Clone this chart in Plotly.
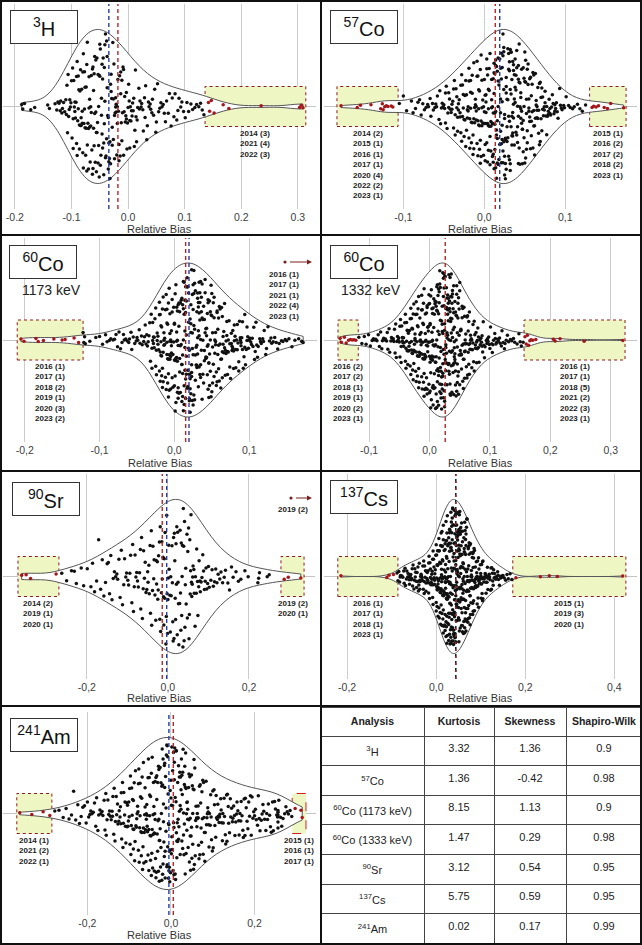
import numpy as np
import plotly.graph_objects as go

# ------------------------------------------------------------------
# DATA  (relative bias, in units of 0.001)
# ------------------------------------------------------------------
h3_main = [-188,-186,-183,-172,-165,-142,-139,
-129,-126,-124,-122,
-120,-119,-117,-116,-114,-112,
-110,-109,-108,-107,-106,-105,-104,-103,-102,-101,
-100,-99,-98,-97,-97,-96,-95,-94,-94,-93,-92,-91,-91,
-90,-90,-89,-88,-88,-87,-86,-86,-85,-84,-84,-83,-83,-82,-81,-81,
-80,-80,-79,-79,-78,-77,-77,-76,-76,-75,-74,-74,-73,-73,-72,-72,-71,
-70,-70,-69,-69,-68,-68,-67,-66,-66,-65,-65,-64,-63,-63,-62,-62,-61,-61,
-60,-60,-59,-59,-58,-57,-57,-56,-56,-55,-55,-54,-53,-53,-52,-52,-51,-51,
-50,-50,-49,-49,-48,-47,-47,-46,-46,-45,-45,-44,-43,-43,-42,-42,-41,-41,
-40,-40,-39,-38,-38,-37,-37,-36,-35,-35,-34,-34,-33,-32,-32,-31,-31,
-30,-30,-29,-28,-28,-27,-26,-26,-25,-24,-24,-23,-22,-22,-21,-21,
-20,-19,-19,-18,-17,-16,-16,-15,-14,-13,-13,-12,-11,-11,
-10,-9,-8,-8,-7,-6,-5,-4,-3,-3,-2,-1,
0,1,2,3,3,4,5,6,7,8,9,
10,11,12,13,14,15,16,17,19,
20,21,23,24,26,27,29,
30,31,33,34,36,37,39,
40,42,43,45,47,49,
50,52,54,56,58,
60,62,64,66,68,
71,73,76,78,
81,83,86,88,
90,93,95,98,
101,104,107,
111,114,118,
121,125,128,
131,134]
h3_out = [142,144,147,152,168,178,235,303,306,309]

co57_main = [-105,-100,-96,
-90,-88,-85,-82,
-80,-78,-76,-74,-72,
-70,-69,-67,-66,-64,-63,-61,
-60,-59,-58,-56,-55,-54,-53,-52,-51,
-50,-49,-48,-48,-47,-46,-45,-44,-44,-43,-42,-41,
-40,-40,-39,-38,-38,-37,-36,-36,-35,-34,-34,-33,-33,-32,-32,-31,
-30,-30,-29,-29,-28,-28,-27,-27,-26,-26,-25,-25,-24,-24,-23,-23,-22,-22,-21,-21,
-20,-20,-19,-19,-19,-18,-18,-17,-17,-17,-16,-16,-15,-15,-15,-14,-14,-13,-13,-13,-12,-12,-11,-11,
-10,-10,-10,-9,-9,-9,-8,-8,-8,-7,-7,-7,-6,-6,-6,-5,-5,-5,-4,-4,-4,-3,-3,-3,-2,-2,-1,-1,
0,0,0,1,1,1,2,2,2,2,3,3,3,4,4,4,5,5,5,5,6,6,6,7,7,7,8,8,8,9,9,9,
10,10,10,10,11,11,11,11,12,12,12,12,13,13,13,13,14,14,14,14,15,15,15,15,16,16,16,16,17,17,17,17,18,18,19,19,
20,20,20,20,21,21,21,21,22,22,22,22,23,23,23,23,24,24,24,24,25,25,25,25,26,26,26,26,27,27,27,27,28,28,28,29,29,29,
30,30,30,30,31,31,31,31,32,32,32,32,33,33,33,33,34,34,34,34,35,35,35,35,36,36,36,36,37,37,37,38,38,38,39,39,39,
40,40,40,41,41,41,42,42,42,42,43,43,43,44,44,44,45,45,45,45,46,46,46,47,47,47,48,48,48,49,49,49,
50,50,50,51,51,51,52,52,52,53,53,53,54,54,55,55,55,56,56,56,57,57,58,58,58,59,59,
60,60,61,61,61,62,62,63,63,64,64,65,65,65,66,66,67,67,68,68,69,69,
70,70,71,71,72,72,73,74,74,75,75,76,77,77,78,79,79,
80,81,81,82,83,84,85,86,87,87,88,89,
90,91,93,94,95,96,98,99,
101,104,106,109,
111,115,118,
121,125]
co57_out = [-177,-157,-153,-140,-128,-126,-125,-123,-121,-119,-115,-113,
133,135,138,141,148,152,156,172]

co60a_main = [-122,-121,-120,-119,
-113,-105,
-100,-96,-92,
-90,-87,-85,-82,
-80,-78,-76,-74,-72,
-70,-68,-67,-65,-63,-61,
-60,-58,-57,-55,-53,-51,
-50,-49,-47,-46,-44,-43,-41,
-40,-39,-38,-37,-36,-35,-34,-33,-32,-31,
-30,-30,-29,-29,-28,-28,-27,-27,-26,-25,-25,-24,-24,-23,-23,-22,-22,-21,
-20,-20,-20,-19,-19,-19,-18,-18,-18,-17,-17,-17,-16,-16,-16,-15,-15,-15,-14,-14,-14,-13,-13,-12,-12,-11,-11,
-10,-10,-10,-10,-9,-9,-9,-8,-8,-8,-8,-7,-7,-7,-6,-6,-6,-6,-5,-5,-5,-4,-4,-4,-4,-3,-3,-3,-2,-2,-1,-1,
0,0,0,0,1,1,1,1,2,2,2,2,3,3,3,3,4,4,4,4,5,5,5,5,6,6,6,7,7,7,8,8,8,9,9,
10,10,10,10,11,11,11,11,12,12,12,12,13,13,13,13,14,14,14,14,15,15,15,15,16,16,16,16,17,17,17,18,18,18,19,19,19,
20,20,20,20,21,21,21,21,22,22,22,22,23,23,23,23,24,24,24,24,25,25,25,25,26,26,26,26,27,27,27,28,28,28,29,29,
30,30,30,30,31,31,31,31,32,32,32,32,33,33,33,33,34,34,34,34,35,35,35,35,36,36,36,37,37,37,38,38,38,39,39,
40,40,40,41,41,41,42,42,42,43,43,43,44,44,44,45,45,45,45,46,46,46,47,47,47,48,48,48,49,49,49,
50,50,50,51,51,51,52,52,53,53,53,54,54,55,55,55,56,56,57,57,57,58,58,59,59,59,
60,60,61,61,62,62,63,63,64,64,64,65,65,66,66,67,67,68,68,69,69,
70,70,71,71,72,72,73,74,74,75,76,76,77,77,78,78,79,79,
80,80,81,82,82,83,84,84,85,86,86,87,88,88,89,89,
90,91,91,92,93,94,94,95,96,97,97,98,99,
100,101,102,103,104,105,106,107,108,109,
110,111,112,114,115,116,118,119,
120,122,123,125,127,129,
130,132,134,136,138,
140,143,145,148,
150,153,157,
161,166,
170,172]
co60a_out = [-205,-201,-185,-182,-175,-161,-150,-146,-134,-128]

co60b_main = [-117,-112,
-108,-105,-101,
-98,-95,-93,-91,
-89,-87,-85,-83,-81,
-79,-78,-76,-74,-73,-71,
-70,-69,-67,-66,-64,-63,-61,
-60,-59,-58,-57,-56,-55,-54,-53,-52,-51,
-50,-49,-49,-48,-47,-47,-46,-45,-45,-44,-43,-43,-42,-41,
-40,-40,-39,-39,-38,-38,-37,-37,-36,-36,-35,-35,-34,-34,-33,-33,-32,-32,-31,-31,
-30,-30,-30,-29,-29,-28,-28,-28,-27,-27,-26,-26,-26,-25,-25,-24,-24,-24,-23,-23,-22,-22,-22,-21,-21,
-20,-20,-20,-19,-19,-19,-18,-18,-18,-17,-17,-17,-16,-16,-16,-15,-15,-15,-14,-14,-14,-13,-13,-13,-12,-12,-12,-11,-11,-11,
-10,-10,-10,-10,-9,-9,-9,-8,-8,-8,-7,-7,-7,-7,-6,-6,-6,-5,-5,-5,-4,-4,-4,-4,-3,-3,-3,-2,-2,-2,-1,-1,-1,
0,0,0,0,1,1,1,1,2,2,2,2,3,3,3,3,4,4,4,4,5,5,5,5,6,6,6,6,7,7,7,7,8,8,8,9,9,9,
10,10,10,10,11,11,11,11,12,12,12,12,12,13,13,13,13,14,14,14,14,15,15,15,15,15,16,16,16,16,17,17,17,17,18,18,18,18,19,19,19,19,
20,20,20,20,21,21,21,21,22,22,22,22,22,23,23,23,23,24,24,24,24,24,25,25,25,25,25,26,26,26,26,27,27,27,27,28,28,28,28,29,29,29,29,
30,30,30,30,31,31,31,31,32,32,32,32,33,33,33,33,34,34,34,34,35,35,35,35,35,36,36,36,36,37,37,37,37,38,38,38,38,39,39,39,39,
40,40,40,40,41,41,41,41,42,42,42,42,43,43,43,44,44,44,45,45,45,45,46,46,46,46,47,47,47,48,48,48,49,49,49,
50,50,50,51,51,51,52,52,52,53,53,54,54,54,55,55,56,56,56,57,57,58,58,58,59,59,59,
60,60,61,61,62,62,63,63,64,64,65,65,65,66,66,67,67,68,68,69,69,
70,70,71,72,72,73,74,74,75,76,76,77,78,78,79,79,
80,81,81,82,83,84,85,86,87,87,88,89,
90,91,92,94,95,96,97,98,99,
100,101,103,104,105,106,108,109,
110,111,113,114,116,117,119,
120,122,124,125,127,129,
131,134,136,139,
141,145,148,
150,152,155]
co60b_out = [-148,-146,-141,-138,-134,-131,-128,-125,-122,
158,160,162,164,166,168,171,176,205,208,216,256,320]

sr90_main = [-262,-250,-238,-231,-226,-214,-208,-199,-190,
-186,-181,-176,-171,
-166,-162,-158,-154,-150,
-147,-144,-141,-138,-135,-132,
-129,-126,-124,-121,-118,-115,-112,
-109,-107,-104,-102,-99,-97,-94,-92,
-89,-87,-85,-83,-81,-79,-77,-75,-73,
-70,-68,-67,-65,-63,-61,-60,-58,-56,-54,-52,
-50,-49,-47,-46,-44,-43,-41,-40,-38,-37,-35,-34,-32,
-30,-29,-28,-26,-25,-24,-23,-21,-20,-19,-18,-16,-15,-14,-12,-11,
-10,-9,-8,-7,-5,-4,-3,-2,-1,0,1,2,3,5,6,7,8,
10,11,12,13,14,15,16,17,18,19,20,21,22,23,24,25,26,27,
29,30,31,32,33,34,35,36,37,38,39,40,41,42,43,44,45,
47,48,49,51,52,53,54,55,56,57,58,59,60,61,62,
64,65,67,68,70,71,73,74,76,77,79,80,82,
84,86,88,90,92,94,96,98,100,102,
106,109,112,115,118,121,124,
128,131,135,139,142,
148,152,157,161,
168,174,180,
190,198,
222,224,226,
245,250]
sr90_out = [-361,-350,-339,-276,287,297,328]

cs137_main = [-88,-86,-84,-82,-81,
-80,-78,-77,-75,-73,-72,
-70,-69,-67,-66,-64,-63,-61,
-60,-59,-58,-57,-56,-55,-54,-53,-52,
-50,-49,-48,-47,-46,-45,-44,-43,-42,-41,
-40,-39,-38,-37,-37,-36,-35,-34,-33,-32,-31,
-30,-29,-28,-27,-27,-26,-25,-24,-23,-23,-22,-21,
-20,-19,-19,-18,-17,-17,-16,-15,-15,-14,-13,-13,-12,-11,
-10,-10,-9,-9,-8,-8,-7,-7,-6,-6,-5,-5,-4,-4,-3,-3,-2,-1,
0,0,0,1,1,1,2,2,2,3,3,3,4,4,4,5,5,5,6,6,6,7,7,7,8,8,9,9,
10,10,10,10,11,11,11,11,12,12,12,12,13,13,13,13,14,14,14,14,15,15,15,15,16,16,16,16,17,17,17,17,18,18,18,19,19,19,
20,20,20,20,20,21,21,21,21,21,22,22,22,22,22,23,23,23,23,23,24,24,24,24,24,25,25,25,25,25,26,26,26,26,27,27,27,27,28,28,28,28,29,29,29,29,
30,30,30,30,30,31,31,31,31,31,32,32,32,32,32,33,33,33,33,33,34,34,34,34,34,35,35,35,35,35,36,36,36,36,36,37,37,37,37,37,38,38,38,38,38,39,39,39,39,39,
40,40,40,40,40,41,41,41,41,41,42,42,42,42,42,43,43,43,43,43,44,44,44,44,44,45,45,45,45,45,46,46,46,46,46,47,47,47,47,47,48,48,48,48,49,49,49,49,
50,50,50,50,50,51,51,51,51,51,52,52,52,52,52,53,53,53,53,53,54,54,54,54,54,55,55,55,55,56,56,56,56,57,57,57,57,58,58,58,58,59,59,59,59,
60,60,60,60,61,61,61,61,62,62,62,62,63,63,63,63,64,64,64,64,65,65,65,65,66,66,66,66,67,67,67,67,68,68,68,68,69,69,69,
70,70,70,70,71,71,71,71,72,72,72,73,73,73,74,74,74,75,75,75,76,76,76,77,77,77,78,78,78,79,79,79,
80,80,80,81,81,81,82,82,82,83,83,83,84,84,84,85,85,86,86,87,87,88,88,89,89,
90,90,91,91,92,92,93,93,94,94,95,95,96,96,97,97,98,98,99,
100,100,101,101,102,102,103,103,104,104,105,105,106,107,108,109,
110,111,112,112,113,114,115,116,116,117,118,119,
120,121,122,123,124,125,126,127,128,129,
130,131,132,134,135,136,138,139,
140,142,144,145,147,149,
150,153,156,159,
162,166,170]
cs137_out = [-214,-111,-106,-96,179,234,254,272,419]

am241_main = [-278,-268,
-258,-251,-244,
-238,-233,-228,-223,
-219,-215,-211,-207,-203,
-200,-197,-194,-192,-189,-186,-183,
-180,-178,-175,-173,-170,-168,-165,-163,
-160,-158,-156,-155,-153,-151,-149,-147,-145,-143,-141,
-140,-139,-137,-136,-134,-133,-131,-130,-128,-127,-125,-124,-122,-121,
-120,-119,-118,-116,-115,-114,-113,-111,-110,-109,-108,-106,-105,-104,-103,-102,-101,
-100,-99,-98,-97,-96,-95,-94,-93,-92,-91,-90,-90,-89,-88,-87,-86,-85,-84,-83,-82,-81,
-80,-79,-78,-78,-77,-76,-75,-74,-74,-73,-72,-71,-70,-70,-69,-68,-67,-66,-66,-65,-64,-63,-62,-62,-61,
-60,-59,-59,-58,-57,-57,-56,-55,-55,-54,-53,-53,-52,-51,-51,-50,-49,-49,-48,-47,-47,-46,-45,-45,-44,-43,-43,-42,-41,
-40,-40,-39,-39,-38,-38,-37,-36,-36,-35,-34,-34,-33,-32,-32,-31,-30,-30,-29,-29,-28,-28,-27,-26,-26,-25,-24,-24,-23,-22,-22,-21,
-20,-20,-19,-19,-18,-18,-17,-16,-16,-15,-15,-14,-14,-13,-12,-12,-11,-10,-10,-9,-9,-8,-8,-7,-6,-6,-5,-5,-4,-4,-3,-2,-2,-1,
0,0,1,1,2,2,3,4,4,5,6,6,7,7,8,8,9,10,10,11,12,12,13,13,14,14,15,16,16,17,18,18,19,
20,20,21,22,22,23,24,24,25,26,26,27,28,28,29,30,30,31,32,32,33,34,34,35,36,36,37,38,38,39,
40,40,41,42,43,43,44,45,46,46,47,48,49,49,50,51,52,52,53,54,55,55,56,57,58,59,
60,61,62,63,64,65,65,66,67,68,69,70,71,72,73,74,75,76,77,78,79,
80,81,82,84,85,86,87,88,89,90,91,92,94,95,96,97,99,
100,101,103,104,105,107,108,109,111,112,113,115,116,117,119,
120,121,123,124,125,127,128,130,131,133,134,135,137,138,
140,142,143,145,147,148,150,152,153,155,157,158,
160,162,163,165,167,168,170,172,173,175,177,178,
180,182,184,186,188,190,192,194,196,198,
200,202,204,207,209,211,213,216,218,
220,222,224,227,229,231,233,236,238,
240,243,245,248,250,253,255,258,
256,256,256,256,256,
262,265,268,272,275,278,
281,285,289]
am241_out = [-362,-333,-306,-290,297,311,314]

# dashed reference lines (relative bias)
blue_lines = [-0.034, 0.019, 0.0195, None, -0.003, None, -0.005]
red_lines = [-0.018, 0.0135, 0.015, 0.026, -0.014, 0.044, 0.0055]

# outlier labels (year (count))
h3_years_r = ["2014 (3)", "2021 (4)", "2022 (3)"]
co57_years_l = ["2014 (2)", "2015 (1)", "2016 (1)", "2017 (1)", "2020 (4)", "2022 (2)", "2023 (1)"]
co57_years_r = ["2015 (1)", "2016 (2)", "2017 (2)", "2018 (2)", "2023 (1)"]
co60a_years_l = ["2016 (1)", "2017 (1)", "2018 (2)", "2019 (1)", "2020 (3)", "2023 (2)"]
co60a_years_off = ["2016 (1)", "2017 (1)", "2021 (1)", "2022 (4)", "2023 (1)"]
co60b_years_l = ["2016 (2)", "2017 (2)", "2018 (1)", "2019 (1)", "2020 (2)", "2023 (1)"]
co60b_years_r = ["2016 (1)", "2017 (1)", "2018 (5)", "2021 (2)", "2022 (3)", "2023 (1)"]
sr90_years_l = ["2014 (2)", "2019 (1)", "2020 (1)"]
sr90_years_r = ["2019 (2)", "2020 (1)"]
sr90_years_off = ["2019 (2)"]
cs137_years_l = ["2016 (1)", "2017 (1)", "2018 (1)", "2023 (1)"]
cs137_years_r = ["2015 (1)", "2019 (3)", "2020 (1)"]
am241_years_l = ["2014 (1)", "2021 (2)", "2022 (1)"]
am241_years_r = ["2015 (1)", "2016 (1)", "2017 (1)"]

# statistics table
tbl_analysis = ["<sup>3</sup>H", "<sup>57</sup>Co", "<sup>60</sup>Co (1173 keV)", "<sup>60</sup>Co (1333 keV)",
                "<sup>90</sup>Sr", "<sup>137</sup>Cs", "<sup>241</sup>Am"]
tbl_kurtosis = [3.32, 1.36, 8.15, 1.47, 3.12, 5.75, 0.02]
tbl_skewness = [1.36, -0.42, 1.13, 0.29, 0.54, 0.59, 0.17]
tbl_shapiro = [0.9, 0.98, 0.9, 0.98, 0.95, 0.95, 0.99]

# ------------------------------------------------------------------
# LAYOUT / STYLE
# ------------------------------------------------------------------
W, H = 642, 945
SANS = "Liberation Sans, Arial, sans-serif"
GREEN = "#eef6c4"
DOT_RED = "#8b1c1c"
PT_BLACK, PT_RED = "#111111", "#a3161a"
LEVELS = [0.0, 0.04, 0.08, 0.13, 0.19, 0.26, 0.34, 0.43, 0.53, 0.64, 0.76, 0.88, 1.01]


def px(x):
    return x / W


def py(y):
    return 1 - y / H


panels = [
    dict(label="<sup>3</sup>H", main=h3_main, out=h3_out, xd=(3, 316), yd=(4, 209),
         rng=(-0.221, 0.332), ticks=[-0.2, -0.1, 0.0, 0.1, 0.2, 0.3], sep=".",
         lab=(10, 10), half=77, title_y=229,
         boxes=[(0.136, 0.314, h3_years_r, "dot")]),
    dict(label="<sup>57</sup>Co", main=co57_main, out=co57_out, xd=(324, 637), yd=(4, 209),
         rng=(-0.198, 0.1885), ticks=[-0.1, 0.0, 0.1], sep=",",
         lab=(330, 10), half=77, title_y=229,
         boxes=[(-0.182, -0.1065, co57_years_l, "dot"), (0.130, 0.175, co57_years_r, "dot")]),
    dict(label="<sup>60</sup>Co", main=co60a_main, out=co60a_out, xd=(3, 317), yd=(238, 442),
         rng=(-0.229, 0.1905), ticks=[-0.2, -0.1, 0.0, 0.1], sep=",",
         lab=(9, 245), half=77, title_y=463, kev=("1173 keV", 51, 290),
         boxes=[(-0.21, -0.122, co60a_years_l, "dot")],
         off=(285, 262, 312, 284, 268, co60a_years_off)),
    dict(label="<sup>60</sup>Co", main=co60b_main, out=co60b_out, xd=(324, 637), yd=(238, 442),
         rng=(-0.1747, 0.3435), ticks=[-0.1, 0.0, 0.1, 0.2, 0.3], sep=",",
         lab=(330, 245), half=77, title_y=463, kev=("1332 keV", 371, 290),
         boxes=[(-0.1515, -0.118, co60b_years_l, "dot"), (0.1565, 0.3237, co60b_years_r, "dot")]),
    dict(label="<sup>90</sup>Sr", main=sr90_main, out=sr90_out, xd=(3, 315), yd=(474, 679),
         rng=(-0.407, 0.363), ticks=[-0.2, 0.0, 0.2], sep=",",
         lab=(12, 482), half=77, title_y=698,
         boxes=[(-0.37, -0.269, sr90_years_l, "dot"), (0.279, 0.336, sr90_years_r, "dot")],
         off=(291, 498, 312, 293, 503, sr90_years_off)),
    dict(label="<sup>137</sup>Cs", main=cs137_main, out=cs137_out, xd=(324, 637), yd=(474, 679),
         rng=(-0.252, 0.451), ticks=[-0.2, 0.0, 0.2, 0.4], sep=",",
         lab=(330, 480), half=77, title_y=698,
         boxes=[(-0.221, -0.086, cs137_years_l, "dot"), (0.172, 0.426, cs137_years_r, "dot")]),
    dict(label="<sup>241</sup>Am", main=am241_main, out=am241_out, xd=(3, 316), yd=(712, 915),
         rng=(-0.402, 0.347), ticks=[-0.2, 0.0, 0.2], sep=",",
         lab=(10, 718), half=76, title_y=935,
         boxes=[(-0.369, -0.285, am241_years_l, "dot"), (0.29, 0.323, am241_years_r, "dash")]),
]


def silverman(v):
    q1, q3 = np.percentile(v, [25, 75])
    return 1.059 * min(v.std(ddof=1), (q3 - q1) / 1.349) * len(v) ** -0.2


def kde(g, v, bw):
    g = np.atleast_1d(g)
    return np.exp(-0.5 * ((g[:, None] - v[None, :]) / bw) ** 2).sum(1)


def lib_jitter_factors(v):
    """Relative spread that plotly's own dynamic jitter gives each (sorted) point."""
    v = np.sort(v)
    n = len(v)
    q1, q3 = np.percentile(v, [25, 75])
    ts = max((v[-1] - v[0]) / 10.0, q3 - q1)
    if n == 1 or ts == 0:
        return v, np.ones(n)
    f = np.empty(n)
    for k in range(n):
        i0, i1 = max(0, k - 5), min(n - 1, k + 5)
        f[k] = min(1.0, np.sqrt(ts * 0.01 * (i1 - i0) / (v[i1] - v[i0] + ts * 1e-9)))
    return v, f / f.max()


fig = go.Figure()
shapes, annos = [], []
layout_axes = {}

for i, p in enumerate(panels, start=1):
    sfx = "" if i == 1 else str(i)
    xa, ya = "x" + sfx, "y" + sfx
    main = np.array(p["main"], float) / 1000.0
    out = np.array(p["out"], float) / 1000.0
    allv = np.concatenate([main, out])
    bw = silverman(allv)
    R = 0.5 * ((p["yd"][1] - p["yd"][0]) / 2.0) / p["half"]
    bh = 0.5 * 20.0 / p["half"]

    # violin outline (all values)
    fig.add_trace(go.Violin(x=allv, y0=0, orientation="h", width=1, points=False,
                            bandwidth=bw, spanmode="hard", line=dict(color="#555555", width=1),
                            fillcolor="white", xaxis=xa, yaxis=ya, hoverinfo="skip",
                            showlegend=False))
    dmax = kde(np.linspace(allv.min(), allv.max(), 800), allv, bw).max()
    # points: one trace per violin-width level; the library jitters them inside the outline
    for group, col in ((main, PT_BLACK), (out, PT_RED)):
        lv = np.digitize(kde(group, allv, bw) / dmax, LEVELS) - 1
        for L in range(len(LEVELS) - 1):
            vals = group[lv == L]
            if vals.size == 0:
                continue
            sv, f = lib_jitter_factors(vals)
            r = kde(sv, allv, bw) / dmax
            j = float(np.clip(np.percentile(0.97 * r / np.maximum(f, 1e-3), 12), 0.02, 1.0))
            fig.add_trace(go.Violin(x=vals, y0=0, orientation="h", width=1, points="all",
                                    pointpos=0, jitter=j, bandwidth=bw, spanmode="hard",
                                    marker=dict(color=col, size=3.5),
                                    line=dict(width=0, color="rgba(0,0,0,0)"),
                                    fillcolor="rgba(0,0,0,0)", xaxis=xa, yaxis=ya,
                                    hoverinfo="skip", showlegend=False))

    ticktext = [("%.1f" % t).replace(".", p["sep"]) for t in p["ticks"]]
    layout_axes["xaxis" + sfx] = dict(domain=[px(p["xd"][0]), px(p["xd"][1])], range=list(p["rng"]),
                                      tickvals=p["ticks"], ticktext=ticktext, showgrid=True,
                                      gridcolor="#cccccc", gridwidth=1, zeroline=False,
                                      showline=False, ticks="", ticklen=0, anchor=ya, fixedrange=True,
                                      tickfont=dict(size=10.5, color="#404040", family=SANS))
    layout_axes["yaxis" + sfx] = dict(domain=[py(p["yd"][1]), py(p["yd"][0])], range=[-R, R],
                                      tickvals=[0], showticklabels=False, showgrid=True,
                                      gridcolor="#c4c4c4", zeroline=False, showline=False,
                                      ticks="", anchor=xa, fixedrange=True)

    # outlier boxes + year labels
    for (a, bb, yrs, dash) in p["boxes"]:
        lc = DOT_RED if dash == "dot" else "#d42020"
        shapes.append(dict(type="rect", xref=xa, yref=ya, x0=a, x1=bb, y0=-bh, y1=bh,
                           fillcolor=GREEN, line=dict(color=lc, width=1, dash=dash),
                           layer="between"))
        annos.append(dict(x=(a + bb) / 2, y=-bh, xref=xa, yref=ya, xanchor="center",
                          yanchor="top", showarrow=False, text="<br>".join(yrs),
                          font=dict(size=8, color="#222222", family=SANS, weight=700)))

    # dashed mean / median lines
    ydom = ya + " domain"
    if red_lines[i - 1] is not None:
        rc = "#222222" if i == 6 else "#b0282a"
        shapes.append(dict(type="line", xref=xa, yref=ydom, x0=red_lines[i - 1], x1=red_lines[i - 1],
                           y0=0, y1=1, line=dict(color=rc, width=1.6 if i == 6 else 1.4, dash="4px,3px"),
                           layer="above"))
        if i == 6:
            shapes.append(dict(type="line", xref=xa, yref=ydom, x0=red_lines[i - 1], x1=red_lines[i - 1],
                               y0=0, y1=1, line=dict(color="#b0282a", width=1.2, dash="2px,5px"),
                               layer="above"))
    if blue_lines[i - 1] is not None:
        shapes.append(dict(type="line", xref=xa, yref=ydom, x0=blue_lines[i - 1], x1=blue_lines[i - 1],
                           y0=0, y1=1, line=dict(color="#2b3b9a", width=1.4, dash="4px,3px"),
                           layer="above"))

    # nuclide label box
    annos.append(dict(x=px(p["lab"][0]), y=py(p["lab"][1]), xref="paper", yref="paper",
                      xanchor="left", yanchor="top", text=p["label"], showarrow=False,
                      font=dict(size=20, color="#111111", family=SANS), bordercolor="#333333",
                      borderwidth=1, borderpad=0, bgcolor="white", width=66, height=32,
                      align="center", valign="middle"))
    if "kev" in p:
        t, kx, ky = p["kev"]
        annos.append(dict(x=px(kx), y=py(ky), xref="paper", yref="paper", xanchor="center",
                          yanchor="middle", text=t, showarrow=False,
                          font=dict(size=14, color="#222222", family=SANS)))
    if "off" in p:
        dx, dy, ax_end, tx, ty, yrs = p["off"]
        shapes.append(dict(type="circle", xref="paper", yref="paper", x0=px(dx - 1.6), x1=px(dx + 1.6),
                           y0=py(dy + 1.6), y1=py(dy - 1.6), fillcolor="#7a1f1f",
                           line=dict(width=0), layer="above"))
        shapes.append(dict(type="line", xref="paper", yref="paper", x0=px(dx + 5), x1=px(ax_end - 3),
                           y0=py(dy), y1=py(dy), line=dict(color="#7a1f1f", width=1), layer="above"))
        shapes.append(dict(type="path", xref="paper", yref="paper",
                           path="M %f,%f L %f,%f L %f,%f Z" % (px(ax_end), py(dy), px(ax_end - 5), py(dy - 2.5),
                                                              px(ax_end - 5), py(dy + 2.5)),
                           fillcolor="#7a1f1f", line=dict(width=0), layer="above"))
        annos.append(dict(x=px(tx), y=py(ty), xref="paper", yref="paper", xanchor="center",
                          yanchor="top", showarrow=False, text="<br>".join(yrs),
                          font=dict(size=8, color="#222222", family=SANS, weight=700)))
    # axis title
    annos.append(dict(x=px((p["xd"][0] + p["xd"][1]) / 2), y=py(p["title_y"]), xref="paper",
                      yref="paper", xanchor="center", yanchor="middle", text="Relative Bias",
                      showarrow=False, font=dict(size=11, color="#333333", family=SANS)))

# statistics table
fig.add_trace(go.Table(
    domain=dict(x=[px(321), 1.0], y=[py(943), py(707)]),
    columnwidth=[103, 70, 72, 76],
    header=dict(values=["<b>Analysis</b>", "<b>Kurtosis</b>", "<b>Skewness</b>", "<b>Shapiro-Wilk</b>"],
                align="center", height=29, fill_color="white",
                line=dict(color="#444444", width=1),
                font=dict(size=10.5, color="#222222", family=SANS)),
    cells=dict(values=[tbl_analysis, tbl_kurtosis, tbl_skewness, tbl_shapiro], align="center",
               height=29.3, fill_color="white", line=dict(color="#444444", width=1),
               font=dict(size=11, color="#222222", family=SANS)),
))

# panel frame
for yy in (235, 471, 706):
    shapes.append(dict(type="line", xref="paper", yref="paper", x0=0, x1=1, y0=py(yy), y1=py(yy),
                       line=dict(color="#111111", width=2), layer="above"))
shapes.append(dict(type="line", xref="paper", yref="paper", x0=px(321), x1=px(321), y0=0, y1=1,
                   line=dict(color="#111111", width=2), layer="above"))
shapes.append(dict(type="rect", xref="paper", yref="paper", x0=px(1), x1=px(641), y0=py(944), y1=py(1),
                   line=dict(color="#111111", width=2), layer="above"))

fig.update_layout(width=W, height=H, margin=dict(l=0, r=0, t=0, b=0), paper_bgcolor="white",
                  plot_bgcolor="white", showlegend=False, violinmode="overlay", violingap=0,
                  violingroupgap=0, shapes=shapes, annotations=annos, **layout_axes)

fig.write_html("out.html")
